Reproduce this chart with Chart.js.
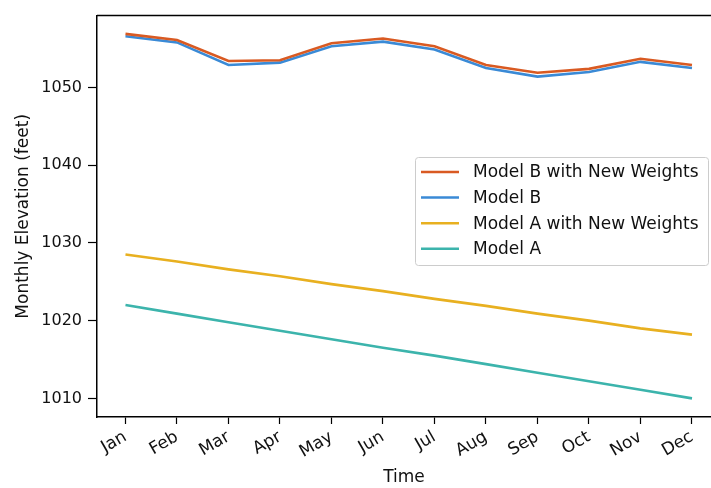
<!DOCTYPE html>
<html>
<head>
<meta charset="utf-8">
<script src="https://cdn.jsdelivr.net/npm/chart.js@4"></script>
<style>
  html, body { margin: 0; padding: 0; background: #fff; }
  #wrap { width: 711px; height: 488px; }
</style>
</head>
<body>
<div id="wrap"><canvas id="elevChart"></canvas></div>
<script>
// 月ラベル
const months = ['Jan', 'Feb', 'Mar', 'Apr', 'May', 'Jun', 'Jul', 'Aug', 'Sep', 'Oct', 'Nov', 'Dec'];
const yTicks = [1010, 1020, 1030, 1040, 1050];

// 各モデルの月別標高 (feet)
const modelBNew = [1056.9, 1056.1, 1053.4, 1053.5, 1055.7, 1056.3, 1055.3, 1052.9, 1051.9, 1052.4, 1053.7, 1052.9];
const modelB    = [1056.6, 1055.8, 1052.9, 1053.2, 1055.3, 1055.9, 1054.9, 1052.5, 1051.4, 1052.0, 1053.3, 1052.5];
const modelANew = [1028.5, 1027.6, 1026.6, 1025.7, 1024.7, 1023.8, 1022.8, 1021.9, 1020.9, 1020.0, 1019.0, 1018.2];
const modelA    = [1022.0, 1020.9, 1019.8, 1018.7, 1017.6, 1016.5, 1015.5, 1014.4, 1013.3, 1012.2, 1011.1, 1010.0];

const toPoints = vals => vals.map((v, i) => ({ x: i, y: v }));

const tickFont = { family: 'DejaVu Sans', size: 16 };
const labelFont = { family: 'DejaVu Sans', size: 17 };

// 上の枠線と凡例を描くプラグイン
const framePlugin = {
    id: 'frame',
    afterDraw(chart) {
        const { ctx, chartArea: a } = chart;
        ctx.save();
        ctx.strokeStyle = '#000';
        ctx.lineWidth = 1.5;
        ctx.beginPath();
        ctx.moveTo(a.left, a.top);
        ctx.lineTo(a.right, a.top);
        ctx.stroke();

        // 凡例
        const bx = 415, by = 157, bw = 293, bh = 108;
        ctx.fillStyle = 'rgba(255,255,255,0.8)';
        ctx.strokeStyle = '#cccccc';
        ctx.lineWidth = 1;
        ctx.beginPath();
        ctx.roundRect(bx + 0.5, by + 0.5, bw, bh, 3);
        ctx.fill();
        ctx.stroke();

        ctx.font = '17px "DejaVu Sans"';
        ctx.textBaseline = 'middle';
        chart.data.datasets.forEach((ds, i) => {
            const y = by + 15 + i * 25.6;
            ctx.strokeStyle = ds.borderColor;
            ctx.lineWidth = 2.5;
            ctx.beginPath();
            ctx.moveTo(bx + 6, y);
            ctx.lineTo(bx + 44, y);
            ctx.stroke();
            ctx.fillStyle = '#111';
            ctx.fillText(ds.label, bx + 58, y + 1);
        });
        ctx.restore();
    }
};

const chart = new Chart(document.getElementById('elevChart'), {
    type: 'line',
    data: {
        datasets: [
            { label: 'Model B with New Weights', data: toPoints(modelBNew), borderColor: '#d95a22' },
            { label: 'Model B', data: toPoints(modelB), borderColor: '#3a8ad6' },
            { label: 'Model A with New Weights', data: toPoints(modelANew), borderColor: '#e8b020' },
            { label: 'Model A', data: toPoints(modelA), borderColor: '#3cb4ac' }
        ].map(ds => Object.assign(ds, { borderWidth: 2.6, pointRadius: 0, tension: 0, fill: false }))
    },
    options: {
        responsive: true,
        maintainAspectRatio: false,
        animation: false,
        layout: { padding: { top: 7, right: 0, left: 0, bottom: 0 } },
        plugins: { legend: { display: false }, tooltip: { enabled: false } },
        scales: {
            x: {
                type: 'linear',
                min: -0.553,
                max: 11.369,
                afterBuildTicks: s => { s.ticks = months.map((m, i) => ({ value: i })); },
                afterFit: s => { s.height = 71; },
                ticks: {
                    callback: v => months[v],
                    font: labelFont,
                    color: '#111',
                    minRotation: 30,
                    maxRotation: 30,
                    padding: 3
                },
                grid: { drawOnChartArea: false, tickLength: 7, tickColor: '#000', tickWidth: 1.2 },
                border: { color: '#000', width: 1.5 },
                title: { display: true, text: 'Time', font: labelFont, color: '#111', padding: { top: 0, bottom: 0 } }
            },
            y: {
                min: 1007.6,
                max: 1059.25,
                afterBuildTicks: s => { s.ticks = yTicks.map(v => ({ value: v })); },
                afterFit: s => { s.width = 97; },
                ticks: { font: tickFont, color: '#111', padding: 6, callback: v => String(v) },
                grid: { drawOnChartArea: false, tickLength: 9, tickColor: '#000', tickWidth: 1.2 },
                border: { color: '#000', width: 1.5 },
                title: { display: true, text: 'Monthly Elevation (feet)', font: labelFont, color: '#111', padding: { top: 13, bottom: 0 } }
            }
        }
    },
    plugins: [framePlugin]
});
</script>
</body>
</html>
